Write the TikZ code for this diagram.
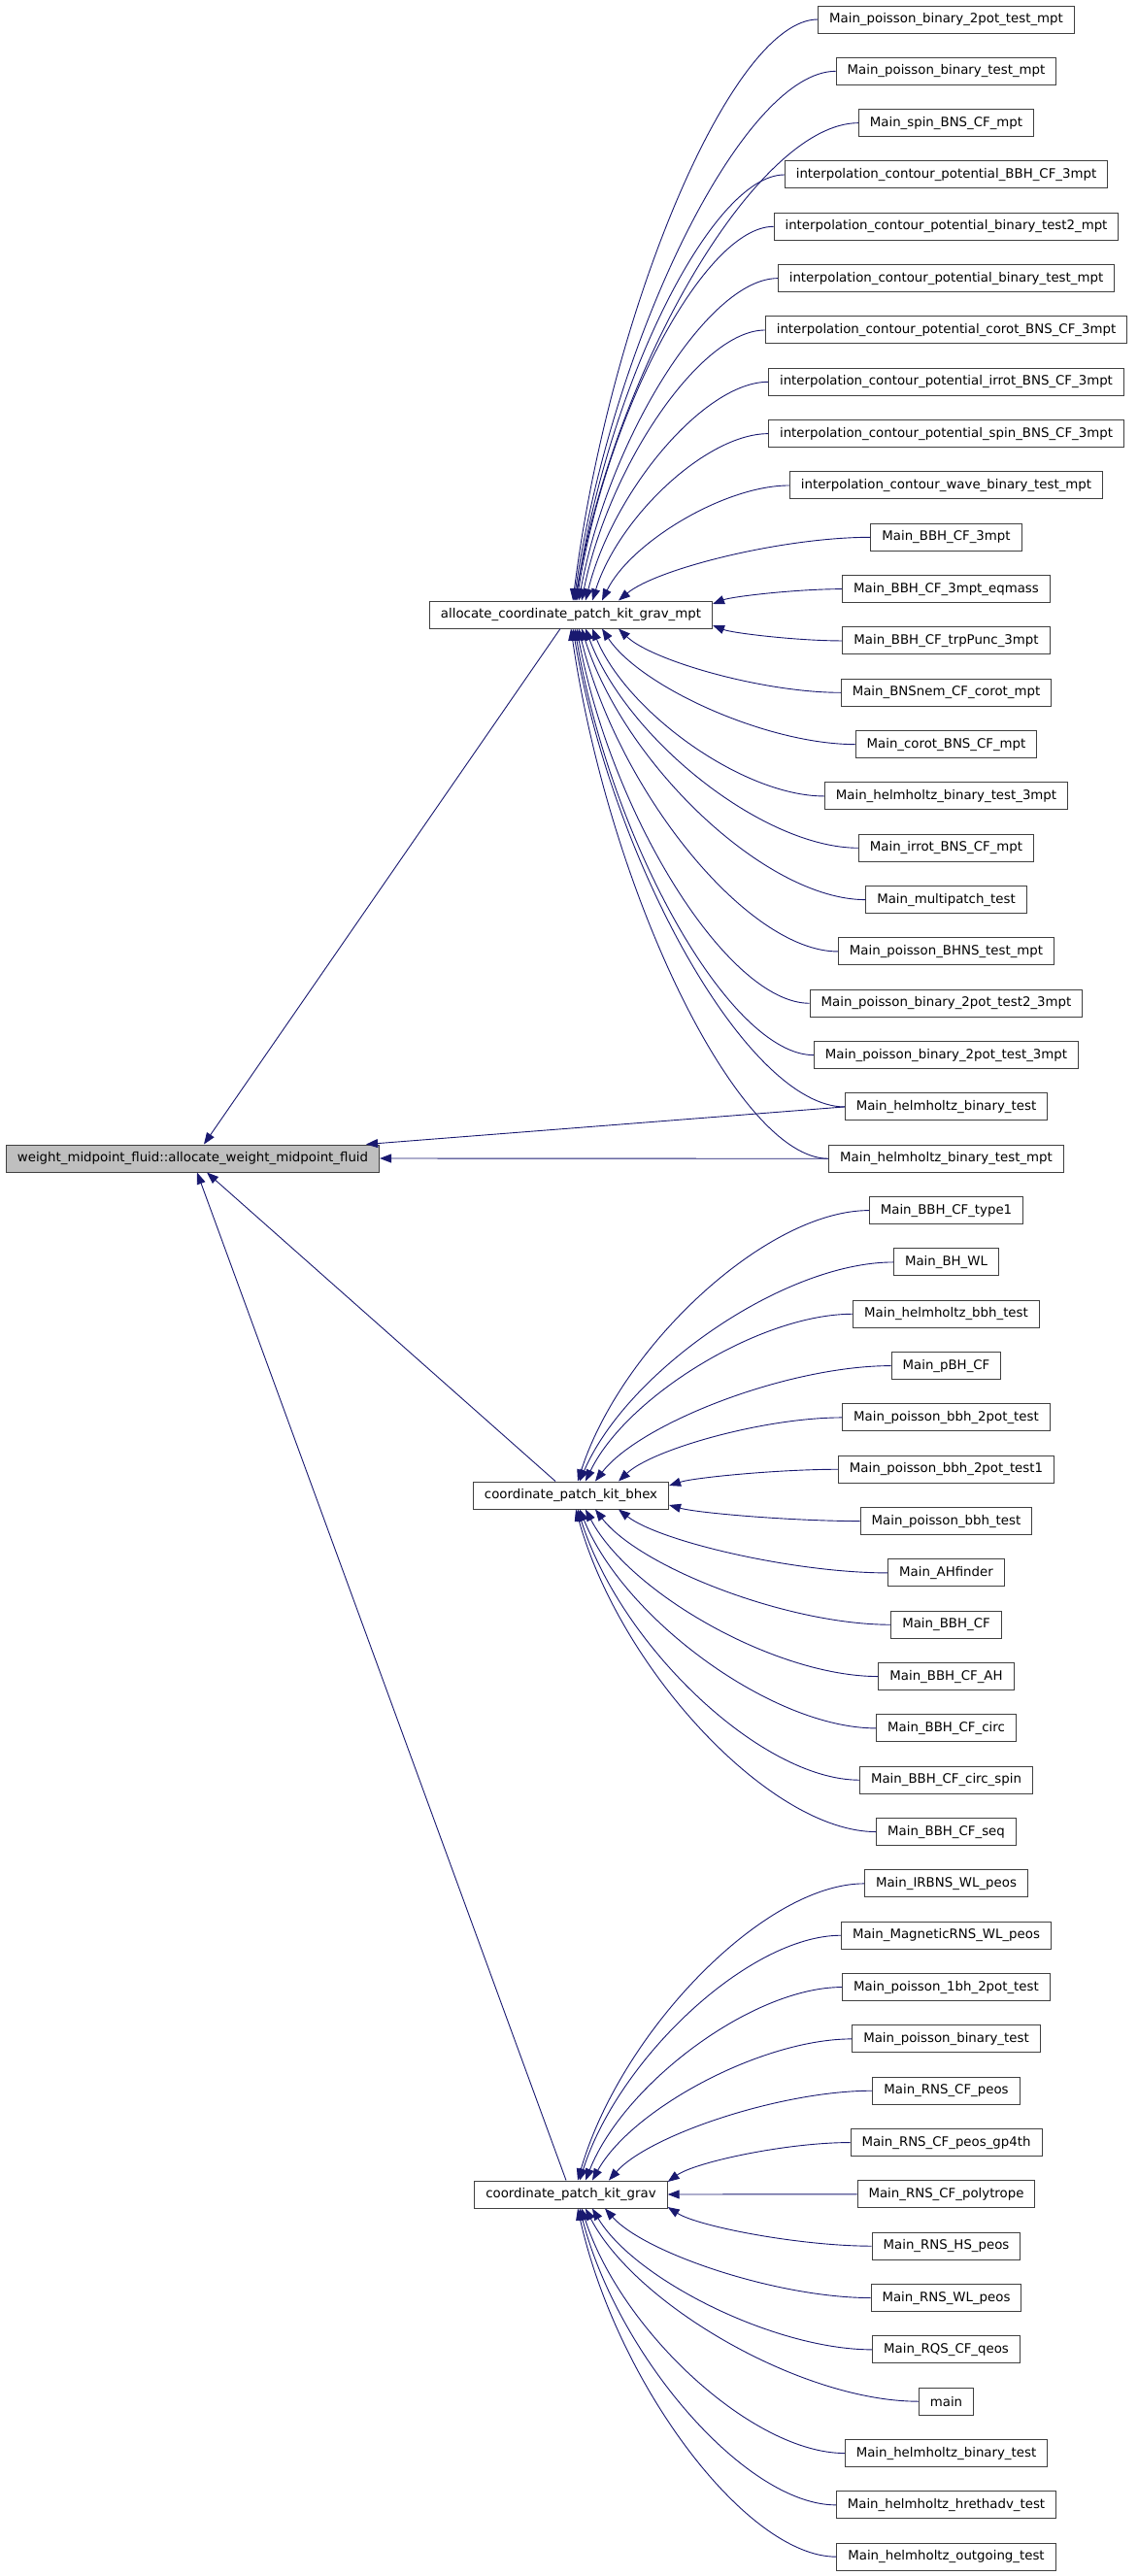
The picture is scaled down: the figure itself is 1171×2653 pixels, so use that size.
\documentclass[tikz,border=0pt]{standalone}
\usepackage{fontspec}
\setmainfont{DejaVu Sans}
\usetikzlibrary{calc,arrows.meta}
\definecolor{callblue}{RGB}{25,25,112}
\tikzset{
	funcbox/.style={draw=black!75, fill=white, line width=1pt, inner xsep=11.5pt, inner ysep=0pt, minimum height=28pt, font=\fontsize{13.33}{16}\selectfont},
	rootbox/.style={funcbox, fill=black!25},
	callarrow/.style={draw=callblue, line width=0.9pt, {Triangle[length=12pt,width=9pt]}-}
}
\begin{document}
\begin{tikzpicture}[x=1pt, y=1pt]
		\useasboundingbox (0,0) rectangle (1171,-2653);
		%function and its direct callers
		\node[rootbox] (root) at (198.5,-1193){weight\_midpoint\_fluid::allocate\_weight\_midpoint\_fluid};
		\node[funcbox] (mpt) at (588,-633){allocate\_coordinate\_patch\_kit\_grav\_mpt};
		\node[funcbox] (bhex) at (588,-1540){coordinate\_patch\_kit\_bhex};
		\node[funcbox] (grav) at (588,-2260){coordinate\_patch\_kit\_grav};
		
		%callers column
		\foreach \t [count=\i] in {Main\_poisson\_binary\_2pot\_test\_mpt, Main\_poisson\_binary\_test\_mpt, Main\_spin\_BNS\_CF\_mpt, interpolation\_contour\_potential\_BBH\_CF\_3mpt, interpolation\_contour\_potential\_binary\_test2\_mpt, interpolation\_contour\_potential\_binary\_test\_mpt, interpolation\_contour\_potential\_corot\_BNS\_CF\_3mpt, interpolation\_contour\_potential\_irrot\_BNS\_CF\_3mpt, interpolation\_contour\_potential\_spin\_BNS\_CF\_3mpt, interpolation\_contour\_wave\_binary\_test\_mpt, Main\_BBH\_CF\_3mpt, Main\_BBH\_CF\_3mpt\_eqmass, Main\_BBH\_CF\_trpPunc\_3mpt, Main\_BNSnem\_CF\_corot\_mpt, Main\_corot\_BNS\_CF\_mpt, Main\_helmholtz\_binary\_test\_3mpt, Main\_irrot\_BNS\_CF\_mpt, Main\_multipatch\_test, Main\_poisson\_BHNS\_test\_mpt, Main\_poisson\_binary\_2pot\_test2\_3mpt, Main\_poisson\_binary\_2pot\_test\_3mpt, Main\_helmholtz\_binary\_test, Main\_helmholtz\_binary\_test\_mpt, Main\_BBH\_CF\_type1, Main\_BH\_WL, Main\_helmholtz\_bbh\_test, Main\_pBH\_CF, Main\_poisson\_bbh\_2pot\_test, Main\_poisson\_bbh\_2pot\_test1, Main\_poisson\_bbh\_test, Main\_AHfinder, Main\_BBH\_CF, Main\_BBH\_CF\_AH, Main\_BBH\_CF\_circ, Main\_BBH\_CF\_circ\_spin, Main\_BBH\_CF\_seq, Main\_IRBNS\_WL\_peos, Main\_MagneticRNS\_WL\_peos, Main\_poisson\_1bh\_2pot\_test, Main\_poisson\_binary\_test, Main\_RNS\_CF\_peos, Main\_RNS\_CF\_peos\_gp4th, Main\_RNS\_CF\_polytrope, Main\_RNS\_HS\_peos, Main\_RNS\_WL\_peos, Main\_RQS\_CF\_qeos, main, Main\_helmholtz\_binary\_test, Main\_helmholtz\_hrethadv\_test, Main\_helmholtz\_outgoing\_test}{
			\node[funcbox] (c\i) at (974.5, {-20-(\i-1)*53.33}){\t};
		}
		
		%calls into the root
		\draw[callarrow] ($(root.north)+(11.5,0)$) -- (577,0 |- mpt.south);
		\draw[callarrow] ($(root.south)+(14.5,0)$) -- (572,0 |- bhex.north);
		\draw[callarrow] ($(root.south)+(4.5,0)$) -- (583,0 |- grav.north);
		\draw[callarrow] ($(root.north east)+(-14,0)$) -- (c22.west);
		\draw[callarrow] (root.east) -- (c23.west);
		
		%calls from above
		\foreach \q/\i/\tx in {mpt/1/590, mpt/2/591, mpt/3/592, mpt/4/593, mpt/5/594, mpt/6/596, mpt/7/599, mpt/8/603, mpt/9/610, mpt/10/620, mpt/11/637, bhex/24/595, bhex/25/597, bhex/26/603, bhex/27/613, bhex/28/637, grav/37/595, grav/38/597, grav/39/603, grav/40/610, grav/41/627}{
			\draw[callarrow] let \p1=(\tx,0 |- \q.north), \p2=(c\i.west) in (\p1) .. controls ($(\p1)+({0.15*(\x2-\x1)},{0.5*(\y2-\y1)})$) and ($(\p2)+({-0.35*(\x2-\x1)},0)$) .. (\p2);
		}
		%calls from the side
		\foreach \q/\i/\ty in {mpt/12/-622, mpt/13/-644, bhex/29/-1530, bhex/30/-1550, grav/42/-2247, grav/43/-2260, grav/44/-2273}{
			\draw[callarrow] let \p1=(\q.east |- 0,\ty), \p2=(c\i.west) in (\p1) .. controls ($(\p1)+({0.15*(\x2-\x1)},{0.5*(\y2-\y1)})$) and ($(\p2)+({-0.35*(\x2-\x1)},0)$) .. (\p2);
		}
		%calls from below
		\foreach \q/\i/\tx in {mpt/14/637, mpt/15/620, mpt/16/610, mpt/17/603, mpt/18/599, mpt/19/596, mpt/20/594, mpt/21/592, mpt/22/590, mpt/23/588, bhex/31/637, bhex/32/613, bhex/33/603, bhex/34/597, bhex/35/595, bhex/36/593, grav/45/623, grav/46/610, grav/47/603, grav/48/599, grav/49/597, grav/50/595}{
			\draw[callarrow] let \p1=(\tx,0 |- \q.south), \p2=(c\i.west) in (\p1) .. controls ($(\p1)+({0.15*(\x2-\x1)},{0.5*(\y2-\y1)})$) and ($(\p2)+({-0.35*(\x2-\x1)},0)$) .. (\p2);
		}
\end{tikzpicture}
\end{document}
